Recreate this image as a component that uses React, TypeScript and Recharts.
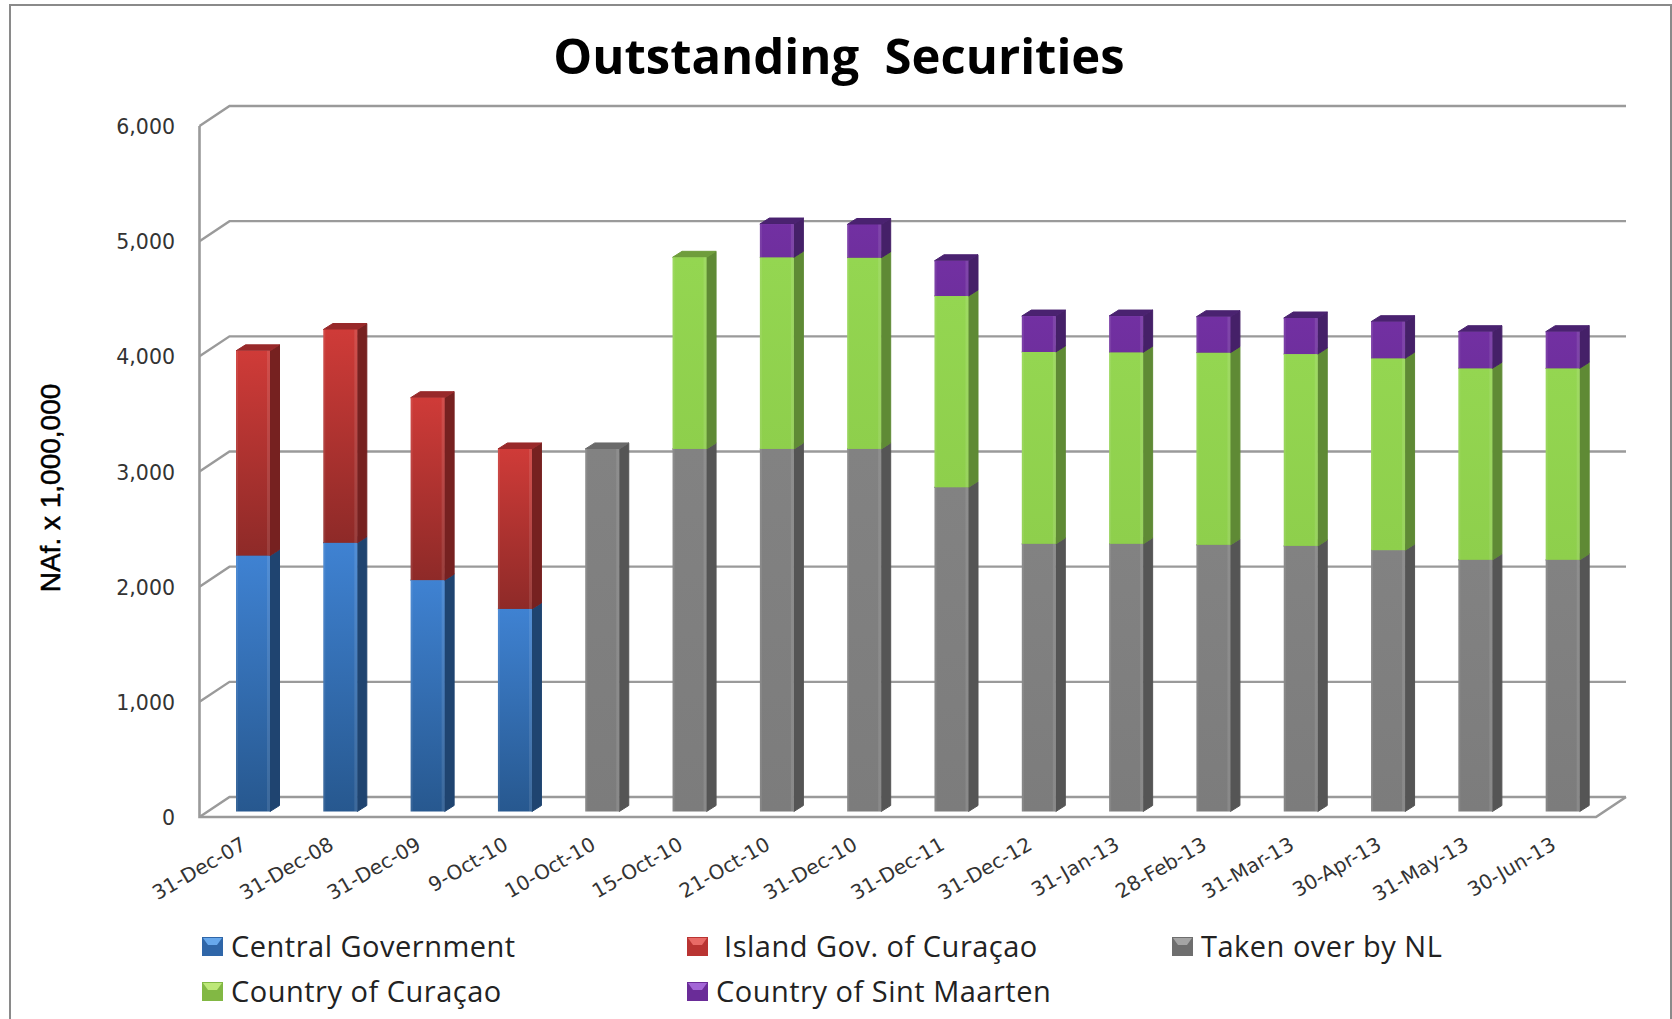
import { BarChart, Bar, XAxis, YAxis, CartesianGrid, Legend } from "recharts";

const categories = ["31-Dec-07", "31-Dec-08", "31-Dec-09", "9-Oct-10", "10-Oct-10", "15-Oct-10", "21-Oct-10", "31-Dec-10", "31-Dec-11", "31-Dec-12", "31-Jan-13", "28-Feb-13", "31-Mar-13", "30-Apr-13", "31-May-13", "30-Jun-13"];
const centralGov = [2222, 2333, 2009, 1759, 0, 0, 0, 0, 0, 0, 0, 0, 0, 0, 0, 0];
const islandGov = [1778, 1852, 1584, 1389, 0, 0, 0, 0, 0, 0, 0, 0, 0, 0, 0, 0];
const takenOver = [0, 0, 0, 0, 3148, 3148, 3148, 3148, 2815, 2324, 2324, 2315, 2306, 2269, 2185, 2185];
const curacao = [0, 0, 0, 0, 0, 1664, 1664, 1660, 1661, 1666, 1663, 1669, 1666, 1666, 1663, 1663];
const sintMaarten = [0, 0, 0, 0, 0, 0, 289, 289, 306, 312, 315, 312, 313, 318, 318, 318];
const yTicks = [0, 1000, 2000, 3000, 4000, 5000, 6000];

const data = categories.map((name, i) => ({
    name,
    central: centralGov[i],
    island: islandGov[i],
    taken: takenOver[i],
    curacao: curacao[i],
    maarten: sintMaarten[i],
}));

const W = 1672;
const H = 1019;
const PLOT = { left: 209, right: 1606, top: 120.5, bottom: 811.5 };
const FRONT_DROP = 5.5; // the axis sits a bit below the bar base
const WALL = { front: 199.5, back: 229.5, right: 1626, depth: 20 };
const LINE = "#9a9a9a";
const SANS = "'DejaVu Sans', sans-serif";

const styles: Record<string, any> = {
    central: { top: "#3f82d2", bottom: "#27588f", side: "#1f4470", lid: "#2d5f9c", swatch: "#2f66a8", swatchTop: "#67a8ec" },
    island: { top: "#cf3b38", bottom: "#8e2a28", side: "#762120", lid: "#98292a", swatch: "#b93432", swatchTop: "#e86a66" },
    taken: { top: "#828282", bottom: "#7c7c7c", side: "#555555", lid: "#6a6a6a", swatch: "#6e6e6e", swatchTop: "#a4a4a4" },
    curacao: { top: "#94d651", bottom: "#8ecf4c", side: "#5f8a35", lid: "#6f9d3c", swatch: "#82b844", swatchTop: "#bde878" },
    maarten: { top: "#7230a2", bottom: "#6f2f9e", side: "#452068", lid: "#4a2270", swatch: "#6a2c98", swatchTop: "#a366d6" },
};

function Box3D(props: any) {
    const { x, y, width, height, seriesKey } = props;
    if (!height || height <= 0) return null;
    const c = styles[seriesKey];
    const dx = 9.5;
    const dy = 6;
    const r = x + width;
    const b = y + height;
    return (
        <g>
            <path d={`M${r},${y} L${r + dx},${y - dy} L${r + dx},${b - dy} L${r},${b} Z`} fill={c.side} stroke={c.side} strokeWidth={1} strokeLinejoin="round" />
            <path d={`M${x},${y} L${x + dx},${y - dy} L${r + dx},${y - dy} L${r},${y} Z`} fill={c.lid} stroke={c.lid} strokeWidth={1} strokeLinejoin="round" />
            <rect x={x} y={y} width={width} height={height} fill={`url(#grad-${seriesKey})`} />
            <rect x={r - 3} y={y} width={3} height={height} fill="#ffffff" opacity={0.1} />
            <rect x={x} y={y} width={2} height={height} fill="#ffffff" opacity={0.08} />
        </g>
    );
}

// the gridlines of the 3D box: side wall piece + back wall line
function gridLine(props: any) {
    const { y1, key } = props;
    const front = y1 + FRONT_DROP;
    const back = front - WALL.depth;
    const isFloor = Math.abs(y1 - PLOT.bottom) < 1;
    return (
        <g key={key}>
            <path d={`M${WALL.front},${front} L${WALL.back},${back} L${WALL.right},${back}`} fill="none" stroke={LINE} strokeWidth={2.4} />
            {isFloor && (
                <path
                    d={`M${WALL.front},${PLOT.top + FRONT_DROP} L${WALL.front},${front} L${WALL.right - 30},${front} L${WALL.right},${back}`}
                    fill="none"
                    stroke={LINE}
                    strokeWidth={2.6}
                />
            )}
        </g>
    );
}

function YTick(props: any) {
    const { x, y, payload } = props;
    return (
        <text x={x - 26} y={y + FRONT_DROP + 8} textAnchor="end" fontFamily={SANS} fontSize={20.5} fill="#333333">
            {payload.value.toLocaleString("en-US")}
        </text>
    );
}

function XTick(props: any) {
    const { x, y, payload } = props;
    return (
        <text transform={`translate(${x - 5},${y + 29}) rotate(-30)`} textAnchor="end" fontFamily={SANS} fontSize={20} fill="#333333">
            {payload.value}
        </text>
    );
}

function Swatch({ seriesKey }: { seriesKey: string }) {
    const c = styles[seriesKey];
    return (
        <svg width={21} height={19} style={{ display: "block" }}>
            <rect width={21} height={19} fill={c.swatch} />
            <path d="M1,1 L20,1 L15,8 L6,8 Z" fill={c.swatchTop} />
        </svg>
    );
}

const legendSpots = [
    { left: 202, top: 927 },
    { left: 687, top: 927 },
    { left: 1172, top: 927 },
    { left: 202, top: 972 },
    { left: 687, top: 972 },
];

function LegendBlock(props: any) {
    return (
        <div style={{ position: "relative", height: 0 }}>
            {props.payload.map((item: any, i: number) => (
                <div
                    key={item.dataKey}
                    style={{ position: "absolute", left: legendSpots[i].left, top: legendSpots[i].top, display: "flex", alignItems: "center", gap: 8, whiteSpace: "pre", fontFamily: "'Open Sans', sans-serif", fontSize: 29, lineHeight: "38px", color: "#222222", letterSpacing: 0.5 }}
                >
                    <Swatch seriesKey={item.dataKey} />
                    <span>{item.value}</span>
                </div>
            ))}
        </div>
    );
}

const seriesKeys = ["central", "island", "taken", "curacao", "maarten"];
const seriesNames = ["Central Government", " Island Gov. of Curaçao", "Taken over by NL", "Country of Curaçao", "Country of Sint Maarten"];

export default function App() {
    return (
        <div style={{ position: "fixed", left: 0, top: 0, width: W, height: H, overflow: "hidden", background: "#fff" }}>
            <div style={{ position: "absolute", left: 9, top: 4, width: 1659, height: 1100, border: "2px solid #8a8a8a" }} />
            <div style={{ position: "absolute", left: 0, width: 1678, top: 20, textAlign: "center", fontFamily: "'Open Sans', sans-serif", fontWeight: 700, fontSize: 49, lineHeight: "70px", color: "#000", whiteSpace: "pre" }}>
                Outstanding  Securities
            </div>
            <div style={{ position: "absolute", left: 0, top: 0 }}>
                <BarChart
                    width={W}
                    height={H}
                    data={data}
                    barSize={34}
                    margin={{ left: PLOT.left - 60, right: W - PLOT.right, top: PLOT.top, bottom: H - PLOT.bottom - 60 }}
                >
                    <defs>
                        {seriesKeys.map((k) => (
                            <linearGradient key={k} id={`grad-${k}`} x1="0" y1="0" x2="0" y2="1">
                                <stop offset="0%" stopColor={styles[k].top} />
                                <stop offset="100%" stopColor={styles[k].bottom} />
                            </linearGradient>
                        ))}
                    </defs>
                    <CartesianGrid vertical={false} horizontal={gridLine} />
                    <XAxis dataKey="name" interval={0} height={60} axisLine={false} tickLine={false} tick={XTick} />
                    <YAxis
                        domain={[0, 6000]}
                        ticks={yTicks}
                        interval={0}
                        width={60}
                        axisLine={false}
                        tickLine={false}
                        tick={YTick}
                        label={{
                            content: () => (
                                <text transform="translate(60,488) rotate(-90)" textAnchor="middle" fontFamily="'Liberation Sans', Arial, sans-serif" fontSize={28} fill="#000" stroke="#000" strokeWidth={0.5}>
                                    NAf. x 1,000,000
                                </text>
                            ),
                        }}
                    />
                    <Legend
                        layout="horizontal"
                        verticalAlign="middle"
                        itemSorter={null}
                        wrapperStyle={{ left: 0, top: 0, width: W, height: 0 }}
                        content={LegendBlock}
                    />
                    {seriesKeys.map((k, i) => (
                        <Bar
                            key={k}
                            dataKey={k}
                            name={seriesNames[i]}
                            stackId="a"
                            fill={styles[k].swatch}
                            isAnimationActive={false}
                            shape={(p: any) => <Box3D {...p} seriesKey={k} />}
                        />
                    ))}
                </BarChart>
            </div>
        </div>
    );
}
